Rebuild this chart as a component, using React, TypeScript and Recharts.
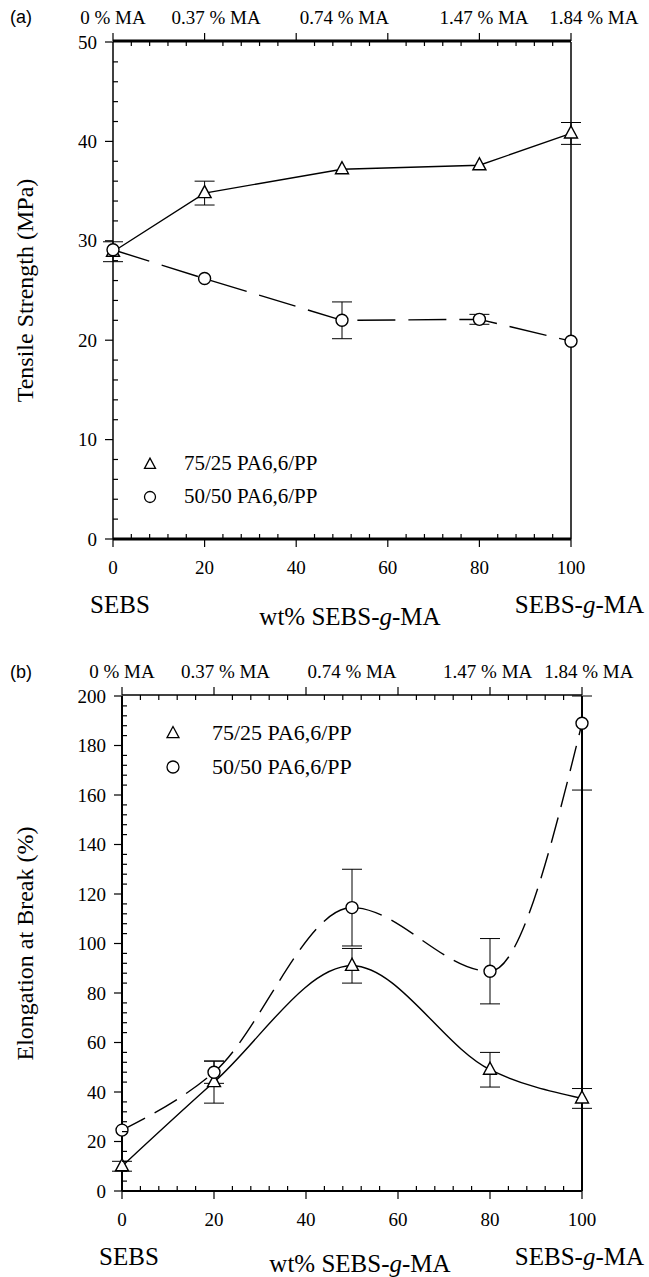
import { LineChart, Line, XAxis, YAxis, ErrorBar, Legend } from 'recharts';

// SEBS-g-MA content in the SEBS / SEBS-g-MA mixture (wt%)
const X_VALUES = [0, 20, 50, 80, 100];

// (a) tensile strength, MPa
const TS_7525 = [28.9, 34.8, 37.2, 37.6, 40.8];
const TS_7525_ERR = [1.0, 1.2, null, null, 1.1];
const TS_5050 = [29.1, 26.2, 22.0, 22.1, 19.9];
const TS_5050_ERR = [null, null, 1.85, 0.5, null];

// (b) elongation at break, %
const EB_7525 = [10, 44, 91, 49, 37.4];
const EB_7525_ERR = [2, 8.5, 7, 7, 4];
const EB_5050 = [24.6, 48, 114.5, 88.8, 189];
const EB_5050_ERR: any[] = [null, 4.5, 15.5, 13.2, [27, 11]];

const SERIES_NAMES = ['75/25 PA6,6/PP', '50/50 PA6,6/PP'];

const MA_LABELS = ['0 % MA', '0.37 % MA', '0.74 % MA', '1.47 % MA', '1.84 % MA'];
const MA_POS_A = [0, 22.5, 50.5, 81, 105];
const MA_POS_B = [0, 22.5, 50, 79.5, 101.5];

const X_TICKS = [0, 4, 8, 12, 16, 20, 24, 28, 32, 36, 40, 44, 48, 52, 56, 60, 64, 68, 72, 76, 80, 84, 88, 92, 96, 100];
const Y_TICKS_A = [0, 2, 4, 6, 8, 10, 12, 14, 16, 18, 20, 22, 24, 26, 28, 30, 32, 34, 36, 38, 40, 42, 44, 46, 48, 50];
const Y_TICKS_B = [
  0, 4, 8, 12, 16, 20, 24, 28, 32, 36, 40, 44, 48, 52, 56, 60, 64, 68, 72, 76, 80, 84, 88, 92, 96, 100,
  104, 108, 112, 116, 120, 124, 128, 132, 136, 140, 144, 148, 152, 156, 160, 164, 168, 172, 176, 180,
  184, 188, 192, 196, 200,
];

const FONT = "'Liberation Serif', 'Times New Roman', serif";

const rowsA = X_VALUES.map((x, i) => ({ x, s1: TS_7525[i], e1: TS_7525_ERR[i], s2: TS_5050[i], e2: TS_5050_ERR[i] }));
const rowsB = X_VALUES.map((x, i) => ({ x, s1: EB_7525[i], e1: EB_7525_ERR[i], s2: EB_5050[i], e2: EB_5050_ERR[i] }));

// frame tick: major ticks point out of the box, minor ones point in
const FrameTick = (props: any) => {
  const { x = 0, y = 0, payload, side, step } = props;
  const v = payload.value;
  const major = Math.abs(v % step) < 1e-6;
  const o = 8;
  const n = 5;
  let p = [x, y, x, y];
  if (side === 'bottom') p = major ? [x, y, x, y + o] : [x, y, x, y - n];
  if (side === 'top') p = major ? [x, y, x, y - o] : [x, y, x, y + n];
  if (side === 'left') p = major ? [x, y, x - o, y] : [x, y, x + n, y];
  if (side === 'right') p = major ? [x, y, x + o + 1, y] : [x, y, x - n, y];
  return (
    <g>
      <line x1={p[0]} y1={p[1]} x2={p[2]} y2={p[3]} stroke="#000" strokeWidth={1.2} />
      {major && side === 'bottom' && (
        <text x={x} y={y + 28} textAnchor="middle" dominantBaseline="central" fontFamily={FONT} fontSize={19} fill="#000">
          {v}
        </text>
      )}
      {major && side === 'left' && (
        <text x={x - 16} y={y} textAnchor="end" dominantBaseline="central" fontFamily={FONT} fontSize={19} fill="#000">
          {v}
        </text>
      )}
    </g>
  );
};

const MaTick = (props: any) => {
  const { x = 0, y = 0, index } = props;
  return (
    <text x={x} y={y - 25} textAnchor="middle" dominantBaseline="central" fontFamily={FONT} fontSize={19} fill="#000">
      {MA_LABELS[index]}
    </text>
  );
};

const YTitle = (props: any) => {
  const { viewBox, text } = props;
  const cx = 25;
  const cy = viewBox.y + viewBox.height / 2;
  return (
    <text x={cx} y={cy} transform={`rotate(-90 ${cx} ${cy})`} textAnchor="middle" dominantBaseline="central"
      fontFamily={FONT} fontSize={24} fill="#000">
      {text}
    </text>
  );
};

const AxisNotes = (props: any) => {
  const { viewBox, low } = props;
  const { x, y, width } = viewBox;
  const common = { fontFamily: FONT, fontSize: 25, fill: '#000', dominantBaseline: 'central' as const };
  return (
    <g>
      <text x={x + 7} y={y + 65} textAnchor="middle" {...common}>SEBS</text>
      <text x={x + width / 2 + 8} y={y + low} textAnchor="middle" {...common}>
        wt% SEBS-<tspan fontStyle="italic">g</tspan>-MA
      </text>
      <text x={644} y={y + 65} textAnchor="end" {...common}>
        SEBS-<tspan fontStyle="italic">g</tspan>-MA
      </text>
    </g>
  );
};

const triPoints = (cx: number, cy: number, s: number) =>
  `${cx},${cy - s * 0.58} ${cx - s / 2},${cy + s * 0.35} ${cx + s / 2},${cy + s * 0.35}`;

const triangleDot = (p: any) => {
  const { cx, cy, index } = p;
  if (cx == null || cy == null) return <g key={`tri-${index}`} />;
  return <polygon key={`tri-${index}`} points={triPoints(cx, cy, 13)} fill="#fff" stroke="#000" strokeWidth={1.4} />;
};

const LegendBox = (props: any) => {
  const { payload = [], fontSize, gap, rowH, mark } = props;
  const items = [...payload].sort((a: any, b: any) => SERIES_NAMES.indexOf(a.value) - SERIES_NAMES.indexOf(b.value));
  return (
    <div style={{ fontFamily: FONT, fontSize, color: '#000' }}>
      {items.map((entry: any) => (
        <div key={entry.value} style={{ display: 'flex', alignItems: 'center', height: rowH, whiteSpace: 'nowrap' }}>
          <svg width={16} height={16}>
            {entry.dataKey === 's1' ? (
              <polygon points={triPoints(8, 8.5, mark)} fill="#fff" stroke="#000" strokeWidth={1.3} />
            ) : (
              <circle cx={8} cy={8} r={mark / 2} fill="#fff" stroke="#000" strokeWidth={1.3} />
            )}
          </svg>
          <span style={{ marginLeft: gap }}>{entry.value}</span>
        </div>
      ))}
    </div>
  );
};

const Panel = ({ cfg }: { cfg: any }) => {
  const { height, margin, rows, yDomain, yTicks, yStep, maPos, frame, curve, dash, yTitle, legend, noteLow } = cfg;
  return (
    <LineChart width={649} height={height} data={rows} margin={margin}>
      <XAxis xAxisId="bottom" dataKey="x" type="number" domain={[0, 100]} ticks={X_TICKS} interval={0}
        height={1} tickSize={0} tickMargin={0} tickLine={false}
        axisLine={{ stroke: '#000', strokeWidth: frame.bottom }}
        tick={<FrameTick side="bottom" step={20} />} label={<AxisNotes low={noteLow} />} />
      <XAxis xAxisId="top" dataKey="x" orientation="top" type="number" domain={[0, 100]} ticks={X_TICKS} interval={0}
        height={1} tickSize={0} tickMargin={0} tickLine={false}
        axisLine={{ stroke: '#000', strokeWidth: frame.top }}
        tick={<FrameTick side="top" step={20} />} />
      <XAxis xAxisId="ma" dataKey="x" orientation="top" type="number" domain={[0, 100]} ticks={maPos} interval={0}
        height={1} tickSize={0} tickMargin={0} tickLine={false} axisLine={false}
        tick={<MaTick />} />
      <YAxis yAxisId="left" type="number" domain={yDomain} ticks={yTicks} interval={0}
        width={1} tickSize={0} tickMargin={0} tickLine={false}
        axisLine={{ stroke: '#000', strokeWidth: frame.left }}
        tick={<FrameTick side="left" step={yStep} />} label={<YTitle text={yTitle} />} />
      <YAxis yAxisId="right" orientation="right" type="number" domain={yDomain} ticks={yTicks} interval={0}
        width={1} tickSize={0} tickMargin={0} tickLine={false}
        axisLine={{ stroke: '#000', strokeWidth: frame.right }}
        tick={<FrameTick side="right" step={yStep} />} />
      <Legend layout="vertical" align="center" verticalAlign="middle"
        wrapperStyle={{ left: legend.left, top: legend.top, width: 260 }}
        content={<LegendBox fontSize={legend.fontSize} gap={legend.gap} rowH={legend.rowH} mark={legend.mark} />} />
      <Line xAxisId="bottom" yAxisId="left" dataKey="s1" name={SERIES_NAMES[0]} type={curve}
        stroke="#000" strokeWidth={1.4} dot={triangleDot} activeDot={false} isAnimationActive={false}>
        <ErrorBar dataKey="e1" direction="y" width={10} stroke="#000" strokeWidth={1} isAnimationActive={false} />
      </Line>
      <Line xAxisId="bottom" yAxisId="left" dataKey="s2" name={SERIES_NAMES[1]} type={curve}
        stroke="#000" strokeWidth={1.4} strokeDasharray={dash}
        dot={{ r: 6, fill: '#fff', stroke: '#000', strokeWidth: 1.4, strokeDasharray: '' }}
        activeDot={false} isAnimationActive={false}>
        <ErrorBar dataKey="e2" direction="y" width={10} stroke="#000" strokeWidth={1} isAnimationActive={false} />
      </Line>
    </LineChart>
  );
};

const CFG_A = {
  height: 640,
  margin: { top: 40, right: 77, bottom: 100, left: 112 },
  rows: rowsA,
  yDomain: [0, 50],
  yTicks: Y_TICKS_A,
  yStep: 10,
  maPos: MA_POS_A,
  frame: { top: 3, bottom: 3, left: 1.5, right: 1.5 },
  curve: 'linear',
  dash: '38 13',
  yTitle: 'Tensile Strength (MPa)',
  legend: { left: 142, top: 447, fontSize: 21, gap: 26, rowH: 33, mark: 11 },
  noteLow: 77,
};

const CFG_B = {
  height: 637,
  margin: { top: 54, right: 66, bottom: 85, left: 121 },
  rows: rowsB,
  yDomain: [0, 200],
  yTicks: Y_TICKS_B,
  yStep: 20,
  maPos: MA_POS_B,
  frame: { top: 1.5, bottom: 2, left: 2, right: 2 },
  curve: 'monotone',
  dash: '26 11',
  yTitle: 'Elongation at Break (%)',
  legend: { left: 165, top: 76, fontSize: 22, gap: 31, rowH: 34, mark: 12 },
  noteLow: 72,
};

const letterStyle = {
  position: 'absolute' as const,
  left: 10,
  fontFamily: "'Liberation Sans', Arial, sans-serif",
  fontSize: 18,
  lineHeight: '24px',
};

export default function App() {
  return (
    <div style={{ position: 'absolute', left: 0, top: 0, width: 649, height: 1277, background: '#fff', overflow: 'hidden' }}>
      <div style={{ position: 'absolute', left: 0, top: 0 }}>
        <Panel cfg={CFG_A} />
      </div>
      <div style={{ position: 'absolute', left: 0, top: 640 }}>
        <Panel cfg={CFG_B} />
      </div>
      <div style={{ ...letterStyle, top: 5 }}>(a)</div>
      <div style={{ ...letterStyle, top: 660 }}>(b)</div>
    </div>
  );
}
